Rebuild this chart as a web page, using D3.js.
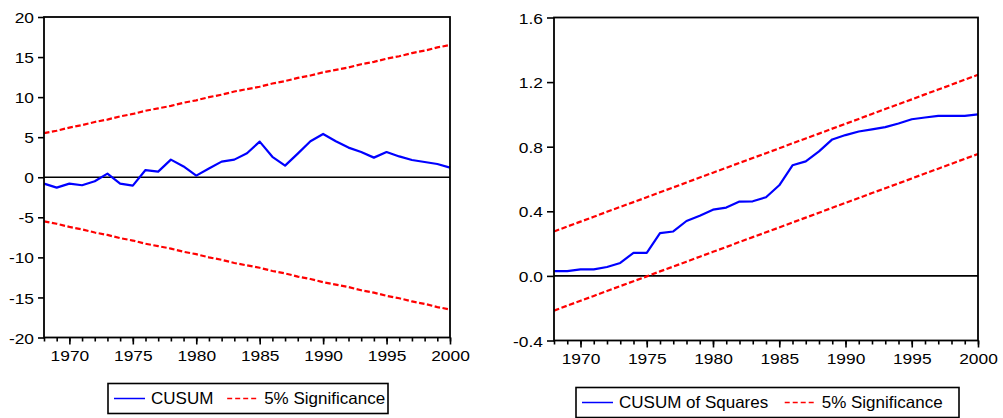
<!DOCTYPE html>
<html>
<head>
<meta charset="utf-8">
<script src="https://cdn.jsdelivr.net/npm/d3@7"></script>
<style>
  html, body { margin: 0; padding: 0; background: #fff; }
  svg { display: block; }
  text { font-family: "Liberation Sans", Arial, sans-serif; fill: #000; }
</style>
</head>
<body>
<div id="chart"></div>
<script>
const years = d3.range(1968, 2001);

// CUSUM panel
const cusum = [-0.8, -1.3, -0.8, -1.0, -0.5, 0.45, -0.8, -1.05, 0.9, 0.7, 2.2, 1.35, 0.2,
  1.1, 1.95, 2.2, 3.0, 4.45, 2.55, 1.45, 2.95, 4.5, 5.4, 4.5, 3.7, 3.15, 2.45, 3.15, 2.6,
  2.15, 1.9, 1.65, 1.2];
const cusumUpper = [5.5, 5.8, 6.2, 6.5, 6.9, 7.2, 7.6, 7.9, 8.3, 8.6, 8.9, 9.3, 9.6, 10.0,
  10.3, 10.7, 11.0, 11.3, 11.7, 12.0, 12.4, 12.7, 13.1, 13.4, 13.7, 14.1, 14.4, 14.8, 15.1,
  15.5, 15.8, 16.2, 16.5];
const cusumLower = cusumUpper.map(v => -v);
const cusumTicks = [20, 15, 10, 5, 0, -5, -10, -15, -20];

// CUSUM of squares panel
const cusumSq = [0.03, 0.03, 0.04, 0.04, 0.055, 0.08, 0.143, 0.143, 0.265, 0.275, 0.34, 0.373,
  0.41, 0.423, 0.46, 0.462, 0.487, 0.561, 0.685, 0.709, 0.771, 0.845, 0.872, 0.894, 0.907,
  0.921, 0.944, 0.97, 0.981, 0.991, 0.991, 0.991, 1.0];
const sqUpper = [0.275, 0.306, 0.336, 0.366, 0.397, 0.427, 0.457, 0.487, 0.518, 0.548, 0.578,
  0.609, 0.639, 0.669, 0.700, 0.730, 0.760, 0.790, 0.821, 0.851, 0.881, 0.912, 0.942, 0.972,
  1.003, 1.033, 1.063, 1.093, 1.124, 1.154, 1.184, 1.215, 1.245];
const sqLower = [-0.215, -0.184, -0.154, -0.124, -0.093, -0.063, -0.033, -0.003, 0.028, 0.058,
  0.088, 0.119, 0.149, 0.179, 0.210, 0.240, 0.270, 0.300, 0.331, 0.361, 0.391, 0.422, 0.452,
  0.482, 0.513, 0.543, 0.573, 0.603, 0.634, 0.664, 0.694, 0.725, 0.755];
const sqTicks = [1.6, 1.2, 0.8, 0.4, 0.0, -0.4];

const yearLabels = [1970, 1975, 1980, 1985, 1990, 1995, 2000];

const width = 1003;
const height = 418;

const svg = d3.select("#chart").append("svg")
  .attr("width", width)
  .attr("height", height)
  .attr("viewBox", [0, 0, width, height]);

// stretch text a bit wider, like the source graph
function stretch(sel, k) {
  sel.each(function() {
    const w = this.getComputedTextLength();
    this.setAttribute("textLength", w * k);
    this.setAttribute("lengthAdjust", "spacingAndGlyphs");
  });
}

// plain hyphen for negatives, as in the source
const hyphen = f => d => f(d).replace("\u2212", "-");

function drawPanel(p) {
  const x = d3.scaleLinear().domain([1968, 2000]).range([p.left, p.right]);
  const y = d3.scaleLinear().domain(p.yDomain).range([p.bottom, p.top]);
  const g = svg.append("g");

  // y axis
  const yAx = g.append("g")
    .attr("transform", `translate(${p.left},0)`)
    .call(d3.axisLeft(y).tickValues(p.yTicks).tickSize(p.yTick).tickPadding(4)
      .tickFormat(hyphen(p.fmt)));
  yAx.select(".domain").remove();
  yAx.selectAll(".tick line").attr("stroke", "#000").attr("stroke-width", 1.6);
  yAx.selectAll("text").style("font-size", "15.5px").attr("dy", "0.36em").call(stretch, 1.12);

  // minor year ticks
  g.append("g")
    .attr("transform", `translate(0,${p.bottom})`)
    .call(d3.axisBottom(x).tickValues(years).tickSize(4).tickFormat(""))
    .call(a => a.select(".domain").remove())
    .selectAll(".tick line").attr("stroke", "#000").attr("stroke-width", 1.6);

  // major ticks with labels
  const xAx = g.append("g")
    .attr("transform", `translate(0,${p.bottom})`)
    .call(d3.axisBottom(x).tickValues(yearLabels).tickSize(7).tickPadding(5)
      .tickFormat(d3.format("d")));
  xAx.select(".domain").remove();
  xAx.selectAll(".tick line").attr("stroke", "#000").attr("stroke-width", 1.6);
  xAx.selectAll("text").style("font-size", "15.5px").call(stretch, 1.12);

  // zero line
  g.append("line")
    .attr("x1", p.left).attr("x2", p.right)
    .attr("y1", y(0)).attr("y2", y(0))
    .attr("stroke", "#000").attr("stroke-width", 1.6);

  const line = d3.line().x((d, i) => x(years[i])).y(d => y(d));

  [p.upper, p.lower].forEach(s => {
    g.append("path")
      .datum(s)
      .attr("fill", "none")
      .attr("stroke", "#ff0000")
      .attr("stroke-width", 2.2)
      .attr("stroke-dasharray", "5.5,2.5")
      .attr("d", line);
  });

  g.append("path")
    .datum(p.values)
    .attr("fill", "none")
    .attr("stroke", "#0000ff")
    .attr("stroke-width", 2.2)
    .attr("stroke-linejoin", "round")
    .attr("d", line);

  // frame
  g.append("rect")
    .attr("x", p.left).attr("y", p.top)
    .attr("width", p.right - p.left).attr("height", p.bottom - p.top)
    .attr("fill", "none").attr("stroke", "#000").attr("stroke-width", 1.8);

  // legend
  const lg = g.append("g");
  lg.append("rect")
    .attr("x", p.legend.x).attr("y", p.legend.y)
    .attr("width", p.legend.w).attr("height", 30)
    .attr("fill", "#fff").attr("stroke", "#000").attr("stroke-width", 1.6);
  const cy = p.legend.y + 15;
  let cx = p.legend.x + 6;
  lg.append("line")
    .attr("x1", cx).attr("x2", cx + 31).attr("y1", cy).attr("y2", cy)
    .attr("stroke", "#0000ff").attr("stroke-width", 1.5);
  const t1 = lg.append("text")
    .attr("x", cx + 37).attr("y", cy).attr("dy", "0.36em")
    .style("font-size", "16.5px").text(p.label);
  stretch(t1, 1.03);
  cx = cx + 37 + t1.node().getComputedTextLength() * 1.03 + 12;
  lg.append("line")
    .attr("x1", cx).attr("x2", cx + 29).attr("y1", cy).attr("y2", cy)
    .attr("stroke", "#ff0000").attr("stroke-width", 1.5)
    .attr("stroke-dasharray", "5,3");
  const t2 = lg.append("text")
    .attr("x", cx + 37).attr("y", cy).attr("dy", "0.36em")
    .style("font-size", "16.5px").text("5% Significance");
  stretch(t2, 1.03);
}

drawPanel({
  left: 44, right: 450, top: 17, bottom: 337.5,
  yDomain: [-20, 20], yTicks: cusumTicks, yTick: 6, fmt: d3.format("d"),
  values: cusum, upper: cusumUpper, lower: cusumLower,
  label: "CUSUM",
  legend: {x: 108, y: 383.5, w: 280}
});

drawPanel({
  left: 554, right: 978, top: 17.5, bottom: 340.5,
  yDomain: [-0.4, 1.6], yTicks: sqTicks, yTick: 7, fmt: d3.format(".1f"),
  values: cusumSq, upper: sqUpper, lower: sqLower,
  label: "CUSUM of Squares",
  legend: {x: 576, y: 387.5, w: 383}
});
</script>
</body>
</html>
